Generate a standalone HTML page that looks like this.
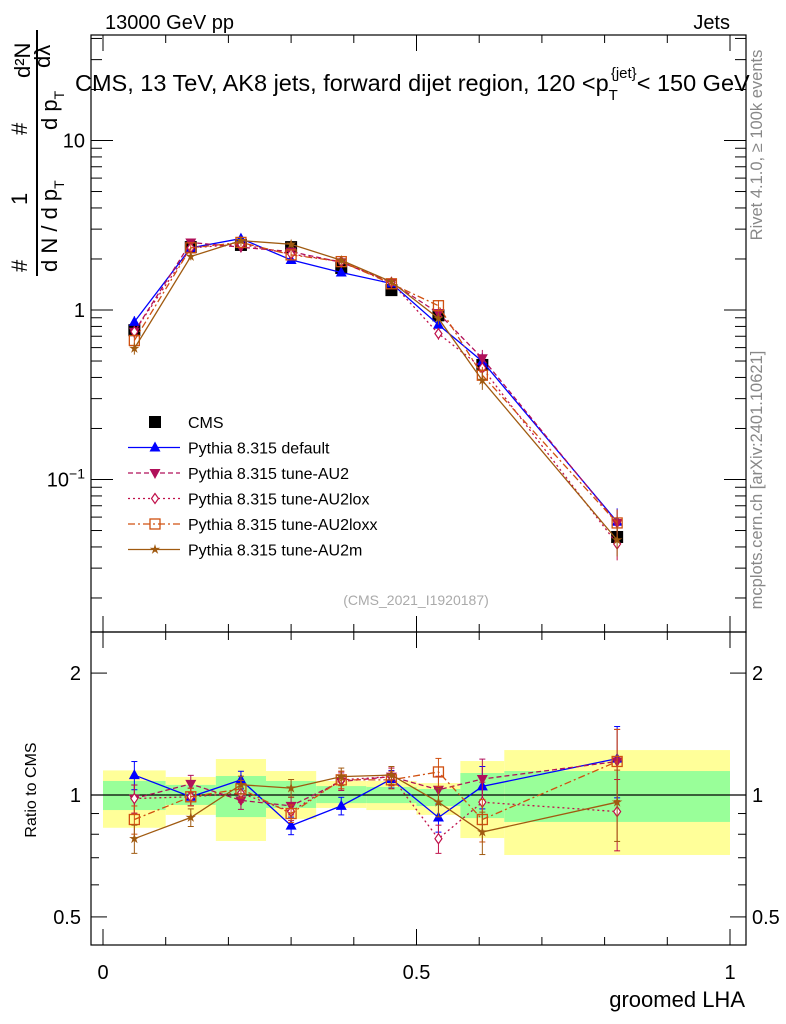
<!DOCTYPE html>
<html><head><meta charset="utf-8">
<style>
html,body{margin:0;padding:0;background:#fff;}
svg{display:block;font-family:"Liberation Sans",sans-serif;}
</style></head>
<body>
<svg id="chart" width="786" height="1024" viewBox="0 0 786 1024" xmlns="http://www.w3.org/2000/svg">
<text x="105" y="29" font-size="20">13000 GeV pp</text>
<text x="730" y="29" font-size="20" text-anchor="end">Jets</text>
<text x="75" y="91" font-size="23.5">CMS, 13 TeV, AK8 jets, forward dijet region, 120 &lt;p<tspan font-size="15" dy="9">T</tspan><tspan font-size="15" dy="-22" dx="-7">{jet}</tspan><tspan dy="13">&lt; 150 GeV</tspan></text>
<g font-size="22">
 <text transform="translate(27,272) rotate(-90)">#</text>
 <text transform="translate(27,205) rotate(-90)">1</text>
 <line x1="37" y1="30" x2="37" y2="276" stroke="#000" stroke-width="2"/>
 <text transform="translate(57,272) rotate(-90)">d N / d p<tspan font-size="14" dy="7">T</tspan></text>
 <text transform="translate(27,135) rotate(-90)">#</text>
 <text transform="translate(57,130) rotate(-90)">d p<tspan font-size="14" dy="7">T</tspan></text>
 <line x1="37" y1="35" x2="37" y2="135" stroke="#000" stroke-width="1.5"/>
 <text transform="translate(30,78) rotate(-90)">d²N</text>
 <text transform="translate(50,68) rotate(-90)">dλ</text>
</g>
<text transform="translate(762,145) rotate(-90)" font-size="16.5" fill="#888" text-anchor="middle">Rivet 4.1.0, ≥ 100k events</text>
<text transform="translate(762,480) rotate(-90)" font-size="16.5" fill="#888" text-anchor="middle">mcplots.cern.ch [arXiv:2401.10621]</text>
<text x="416" y="605" font-size="14" fill="#aaa" text-anchor="middle">(CMS_2021_I1920187)</text>
<text transform="translate(36,790) rotate(-90)" font-size="16" text-anchor="middle">Ratio to CMS</text>
<text x="745" y="1007" font-size="22" text-anchor="end">groomed LHA</text>
<g id="bands"></g><g id="axes"></g><g id="series"></g><g id="legend"></g>
</svg>
<script>
const edges=[0,0.1,0.18,0.26,0.34,0.42,0.5,0.57,0.64,1.0];
const xs=[0.05,0.14,0.22,0.30,0.38,0.46,0.535,0.605,0.82];
const cms=[0.76,2.35,2.42,2.35,1.77,1.31,0.93,0.474,0.0458];
const yelLo=[0.83,0.893,0.77,0.873,0.929,0.918,0.893,0.783,0.711];
const yelHi=[1.15,1.108,1.227,1.146,1.083,1.083,1.07,1.213,1.291];
const grnLo=[0.918,0.945,0.882,0.929,0.955,0.955,0.939,0.877,0.858];
const grnHi=[1.083,1.059,1.114,1.083,1.052,1.047,1.035,1.133,1.146];
const rDefault=[1.12,0.99,1.09,0.84,0.94,1.095,0.88,1.05,1.23];
const rAU2=[0.98,1.065,0.97,0.94,1.08,1.11,1.03,1.095,1.21];
const rAU2lox=[0.98,0.99,1.01,0.91,1.09,1.11,0.78,0.96,0.91];
const rAU2loxx=[0.87,0.99,1.035,0.90,1.09,1.09,1.14,0.87,1.21];
const rAU2m=[0.78,0.88,1.06,1.04,1.11,1.12,0.96,0.81,0.96];
const relErr=[0.08,0.05,0.05,0.05,0.05,0.05,0.08,0.12,0.2];
const xTicks=["0","0.5","1"];
const NS="http://www.w3.org/2000/svg";
const L=91,R=746,T=35,M=632,B=945;
const X=v=>103+v*627;
const Y=v=>310-169.5*Math.log10(v);
const RY=v=>795-405*Math.log10(v);
function mk(tag,at,par){const e=document.createElementNS(NS,tag);for(const k in at)e.setAttribute(k,at[k]);document.getElementById(par).appendChild(e);return e;}
for(let i=0;i<xs.length;i++){
 let e=mk('rect',{x:X(edges[i]),y:RY(yelHi[i]),width:X(edges[i+1])-X(edges[i]),height:RY(yelLo[i])-RY(yelHi[i]),fill:'#ffff99'},'bands');
 
 
 let g=mk('rect',{x:X(edges[i]),y:RY(grnHi[i]),width:X(edges[i+1])-X(edges[i]),height:RY(grnLo[i])-RY(grnHi[i]),fill:'#99ff99'},'bands');
 
 
}
let f1=mk('rect',{x:L,y:T,width:R-L,height:M-T,fill:'none',stroke:'#000','stroke-width':1.2},'axes');


let f2=mk('rect',{x:L,y:M,width:R-L,height:B-M,fill:'none',stroke:'#000','stroke-width':1.2},'axes');


let ln=mk('line',{x1:L,x2:R,y1:RY(1),y2:RY(1),stroke:'#000','stroke-width':1.2},'axes');


function tick(x1,y1,x2,y2){mk('line',{x1,y1,x2,y2,stroke:'#000','stroke-width':1},'axes');}
for(let k=0;k<=10;k++){const x=X(k/10);const len=(k%5==0)?16:8;
 tick(x,M,x,M-len);tick(x,T,x,T+len);tick(x,B,x,B-len);tick(x,M,x,M+len);}
xTicks.forEach((t,i)=>{let e=mk('text',{x:X(i*0.5),y:979,'font-size':20,'text-anchor':'middle'},'axes');e.textContent=t;
 
 });
for(let d=-2;d<=1;d++)for(let m=1;m<10;m++){const v=m*Math.pow(10,d);const y=Y(v);if(y<T||y>M)continue;
 const len=m==1?22:11;tick(L,y,L+len,y);tick(R,y,R-len,y);}
[["10",10],["1",1]].forEach(([t,v])=>{let e=mk('text',{x:L-6,y:Y(v)+7,'font-size':20,'text-anchor':'end'},'axes');e.textContent=t;
 
 });
{let e=mk('text',{x:L-6,y:Y(0.1)+7,'font-size':20,'text-anchor':'end'},'axes');e.innerHTML='10<tspan font-size="14" dy="-8">−1</tspan>';
 
 }
[0.5,0.6,0.7,0.8,0.9,1,2].forEach(v=>{const y=RY(v);const len=(v==0.5||v==1||v==2)?16:8;tick(L,y,L+len,y);tick(R,y,R-len,y);});
[["2",2],["1",1],["0.5",0.5]].forEach(([t,v])=>{
 let e=mk('text',{x:L-10,y:RY(v)+7,'font-size':20,'text-anchor':'end'},'axes');e.textContent=t;
 
 
 let e2=mk('text',{x:R+6,y:RY(v)+7,'font-size':20},'axes');e2.textContent=t;
 
 });
const series=[
 {name:'Pythia 8.315 default',r:rDefault,c:'#0000ff',dash:'',m:'tri'},
 {name:'Pythia 8.315 tune-AU2',r:rAU2,c:'#b0105a',dash:'5,3',m:'tridown'},
 {name:'Pythia 8.315 tune-AU2lox',r:rAU2lox,c:'#c0104a',dash:'2,3',m:'diamond'},
 {name:'Pythia 8.315 tune-AU2loxx',r:rAU2loxx,c:'#d05010',dash:'7,3,2,3',m:'square'},
 {name:'Pythia 8.315 tune-AU2m',r:rAU2m,c:'#a05a10',dash:'',m:'star'}];
function marker(type,x,y,c,par){
 let e;
 if(type=='tri')e=mk('polygon',{points:`${x},${y-6} ${x-5.5},${y+4} ${x+5.5},${y+4}`,fill:c},par);
 else if(type=='tridown')e=mk('polygon',{points:`${x},${y+6} ${x-5.5},${y-4} ${x+5.5},${y-4}`,fill:c},par);
 else if(type=='diamond')e=mk('polygon',{points:`${x},${y-5} ${x-3.5},${y} ${x},${y+5} ${x+3.5},${y}`,fill:'#fff',stroke:c,'stroke-width':1.2},par);
 else if(type=='square')e=mk('rect',{x:x-5,y:y-5,width:10,height:10,fill:'none',stroke:c,'stroke-width':1.3},par);
 else if(type=='star'){let p=[];for(let k=0;k<10;k++){const a=-Math.PI/2+k*Math.PI/5,rr=k%2?2:5.5;p.push((x+rr*Math.cos(a)).toFixed(1)+','+(y+rr*Math.sin(a)).toFixed(1));}e=mk('polygon',{points:p.join(' '),fill:c},par);}
 else e=mk('rect',{x:x-6,y:y-6,width:12,height:12,fill:c},par);
 return e;
}
cms.forEach((v,i)=>{const x=X(xs[i]);
 mk('line',{x1:x,x2:x,y1:Y(v*(1+relErr[i]*0.5)),y2:Y(v*(1-relErr[i]*0.5)),stroke:'#000'},'series');
 let e=marker('sq',x,Y(v),'#000','series');
 
 });
series.forEach(s=>{
 const vals=s.r.map((r,i)=>r*cms[i]);
 let p=mk('polyline',{points:vals.map((v,i)=>X(xs[i])+','+Y(v)).join(' '),fill:'none',stroke:s.c,'stroke-width':1.3,'stroke-dasharray':s.dash},'series');
 
 
 let q=mk('polyline',{points:s.r.map((v,i)=>X(xs[i])+','+RY(v)).join(' '),fill:'none',stroke:s.c,'stroke-width':1.3,'stroke-dasharray':s.dash},'series');
 
 
 vals.forEach((v,i)=>{const x=X(xs[i]),e=relErr[i];
  mk('line',{x1:x,x2:x,y1:Y(v*(1+e)),y2:Y(v*(1-e)),stroke:s.c},'series');
  mk('line',{x1:x,x2:x,y1:RY(s.r[i]*(1+e)),y2:RY(s.r[i]*(1-e)),stroke:s.c},'series');
  [RY(s.r[i]*(1+e)),RY(s.r[i]*(1-e))].forEach(yy=>mk('line',{x1:x-3,x2:x+3,y1:yy,y2:yy,stroke:s.c},'series'));
  let m1=marker(s.m,x,Y(v),s.c,'series');
  
  
  let m2=marker(s.m,x,RY(s.r[i]),s.c,'series');
  
  
 });
});
const ly0=422,ldy=25.5;
let lc=marker('sq',155,ly0,'#000','legend');


let lt=mk('text',{x:188,y:ly0+6,'font-size':16},'legend');lt.textContent='CMS';


series.forEach((s,k)=>{const y=ly0+ldy*(k+1);
 mk('line',{x1:128,x2:180,y1:y,y2:y,stroke:s.c,'stroke-width':1.3,'stroke-dasharray':s.dash},'legend');
 marker(s.m,155,y,s.c,'legend');
 let t=mk('text',{x:188,y:y+6,'font-size':16},'legend');t.textContent=s.name;
 
 
});
</script>
</body></html>
